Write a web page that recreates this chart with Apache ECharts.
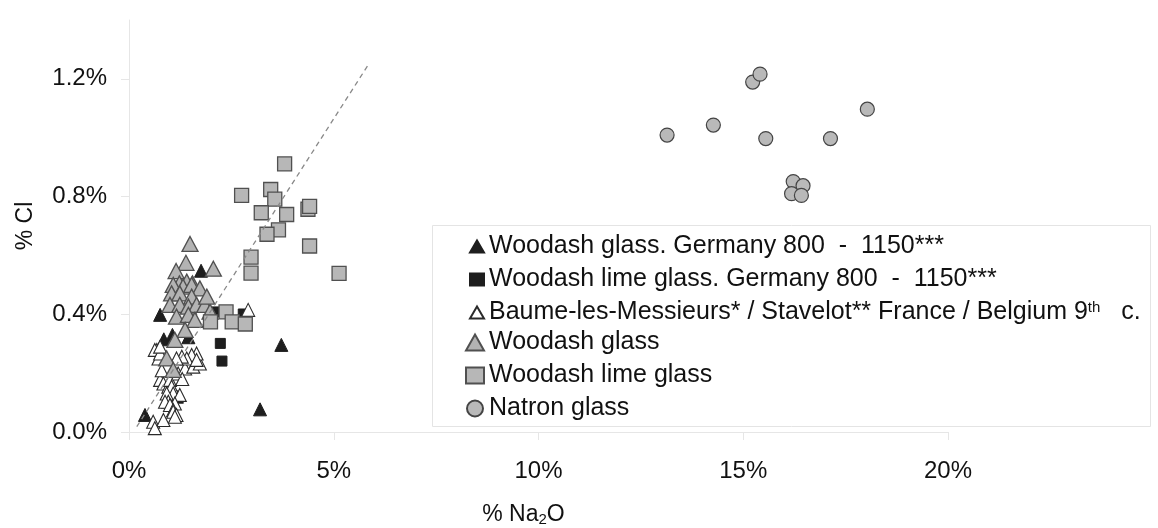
<!DOCTYPE html>
<html>
<head>
<meta charset="utf-8">
<script src="https://cdn.jsdelivr.net/npm/echarts@6/dist/echarts.min.js"></script>
<style>
html,body{margin:0;padding:0;background:#fff;}
#chart{width:1158px;height:528px;}
</style>
</head>
<body>
<div id="chart"></div>
<script>
// ---- Data (x = % Na2O, y = % Cl) ----
const seriesNames = [
  'Woodash glass. Germany 800  -  1150***',
  'Woodash lime glass. Germany 800  -  1150***',
  'Baume-les-Messieurs* / Stavelot** France / Belgium 9th c.',
  'Woodash glass',
  'Woodash lime glass',
  'Natron glass'
];
const woodashGermany = [
  [0.39,0.058],[0.76,0.398],[0.85,0.315],[1.06,0.330],[1.45,0.322],[1.76,0.548],
  [3.72,0.296],[3.20,0.077],[1.00,0.150],[1.17,0.120]
];
const woodashLimeGermany = [
  [2.11,0.408],[2.79,0.401],[2.23,0.301],[2.27,0.241]
];
const baume = [
  [0.68,0.279],[0.63,0.279],[0.72,0.250],[0.76,0.267],[0.76,0.177],[0.84,0.165],
  [0.96,0.154],[1.00,0.177],[1.04,0.154],[1.08,0.131],[0.92,0.131],[1.24,0.126],
  [1.20,0.199],[1.37,0.216],[1.57,0.222],[1.73,0.233],[1.65,0.267],[1.53,0.262],
  [1.41,0.250],[1.29,0.256],[1.16,0.250],[1.65,0.245],[0.96,0.103],[0.88,0.103],
  [1.12,0.097],[1.00,0.092],[1.08,0.075],[1.08,0.069],[1.16,0.058],[1.12,0.052],
  [0.59,0.035],[0.84,0.041],[0.63,0.013],[2.91,0.415],[0.76,0.290],[0.80,0.210],
  [1.30,0.180]
];
const woodash = [
  [1.49,0.639],[1.39,0.575],[1.15,0.547],[2.06,0.555],[1.55,0.505],[1.23,0.505],
  [1.41,0.511],[1.08,0.500],[1.32,0.494],[1.53,0.500],[1.73,0.488],[1.04,0.471],
  [1.24,0.471],[1.53,0.460],[1.00,0.432],[1.24,0.432],[1.45,0.426],[1.65,0.432],
  [1.85,0.432],[1.98,0.409],[1.16,0.392],[1.45,0.398],[1.61,0.381],[1.37,0.347],
  [1.12,0.313],[0.92,0.250],[1.08,0.211],[1.90,0.460]
];
const woodashLime = [
  [3.80,0.911],[2.75,0.804],[3.46,0.824],[3.56,0.791],[3.23,0.745],[3.85,0.739],
  [4.37,0.757],[4.41,0.767],[3.65,0.687],[3.37,0.672],[4.41,0.632],[2.98,0.594],
  [2.98,0.540],[5.13,0.539],[1.99,0.374],[2.37,0.408],[2.52,0.374],[2.84,0.367]
];
const natron = [
  [13.14,1.009],[14.27,1.043],[15.23,1.189],[15.41,1.216],[15.55,0.997],[17.13,0.997],
  [18.03,1.097],[16.22,0.851],[16.46,0.837],[16.18,0.810],[16.42,0.804]
];
const trendArrow = [[0.19,0.018],[5.83,1.245]];
const xTicks = [0,5,10,15,20];
const yTicks = [0,0.4,0.8,1.2];

const FONT = '"Liberation Sans", Arial, sans-serif';
const chart = echarts.init(document.getElementById('chart'), null, {renderer:'canvas'});

function legendFmt(name){
  if (name === seriesNames[2]) return 'Baume-les-Messieurs* / Stavelot** France / Belgium 9{s|th}   c.';
  return name;
}
const legendText = {
  fontFamily: FONT, fontSize: 25, color: '#111', lineHeight: 24,
  rich: { s: { fontFamily: FONT, fontSize: 15, verticalAlign: 'top', lineHeight: 15, color:'#111' } }
};

const option = {
  backgroundColor: '#fff',
  animation: false,
  grid: { left: 129, right: 210, top: 20, bottom: 96, containLabel: false, outerBoundsMode: 'none' },
  xAxis: {
    type: 'value', min: 0, max: 20, interval: 5,
    name: '% Na{sub|2}O', nameLocation: 'middle', nameGap: 70,
    nameTextStyle: { fontFamily: FONT, fontSize: 23, color: '#111', padding: [0, 30, 0, 0],
      rich: { sub: { fontFamily: FONT, fontSize: 15, verticalAlign: 'bottom', padding: [10,0,0,0], color:'#111' } } },
    axisLine: { show: true, lineStyle: { color: '#e6e6e6', width: 1 } },
    axisTick: { show: true, length: 8, lineStyle: { color: '#e6e6e6' } },
    axisLabel: { fontFamily: FONT, fontSize: 24, color: '#111', margin: 27, formatter: v => v + '%' },
    splitLine: { show: false }
  },
  yAxis: {
    type: 'value', min: 0, max: 1.4, interval: 0.4,
    name: '% Cl', nameLocation: 'middle', nameGap: 92,
    nameTextStyle: { fontFamily: FONT, fontSize: 23, color: '#111' },
    axisLine: { show: true, lineStyle: { color: '#e6e6e6', width: 1 } },
    axisTick: { show: true, length: 8, lineStyle: { color: '#e6e6e6' }, customValues: yTicks },
    axisLabel: { fontFamily: FONT, fontSize: 24, color: '#111', margin: 22, customValues: yTicks,
      formatter: v => v.toFixed(1) + '%' },
    splitLine: { show: false }
  },
  legend: [
    { data: seriesNames.slice(0,3), orient: 'vertical', left: 469, top: 234, padding: 0,
      itemWidth: 14, itemHeight: 12, itemGap: 8, selectedMode: false,
      formatter: legendFmt, textStyle: legendText },
    { data: seriesNames.slice(3), orient: 'vertical', left: 465, top: 330, padding: 0,
      itemWidth: 18, itemHeight: 16, itemGap: 8, selectedMode: false,
      formatter: legendFmt, textStyle: legendText }
  ],
  graphic: [
    { type: 'rect', left: 432, top: 225, z: 0, silent: true,
      shape: { width: 718, height: 201 },
      style: { fill: 'rgba(0,0,0,0)', stroke: '#e4e4e4', lineWidth: 1 } }
  ],
  series: [
    { name: 'trend', type: 'scatter', data: [], silent: true,
      markLine: { silent: true, animation: false, symbol: ['none','arrow'], symbolSize: [0, 9],
        label: { show: false },
        lineStyle: { type: [5,4], color: '#888', width: 1.3 },
        data: [[{ coord: trendArrow[0] }, { coord: trendArrow[1] }]] } },
    { name: seriesNames[0], type: 'scatter', data: woodashGermany, symbol: 'triangle', symbolSize: [13,13],
      itemStyle: { color: '#1e1e1e', borderColor: '#1e1e1e', borderWidth: 1, opacity: 1 } },
    { name: seriesNames[1], type: 'scatter', data: woodashLimeGermany, symbol: 'rect', symbolSize: 10,
      itemStyle: { color: '#1e1e1e', borderColor: '#1e1e1e', borderWidth: 1, opacity: 1 } },
    { name: seriesNames[2], type: 'scatter', data: baume, symbol: 'triangle', symbolSize: [13,13],
      itemStyle: { color: '#ffffff', borderColor: '#2a2a2a', borderWidth: 1.1, opacity: 1 } },
    { name: seriesNames[3], type: 'scatter', data: woodash, symbol: 'triangle', symbolSize: [16,15],
      itemStyle: { color: '#b3b3b3', borderColor: '#505050', borderWidth: 1.3, opacity: 1 } },
    { name: seriesNames[4], type: 'scatter', data: woodashLime, symbol: 'rect', symbolSize: 14,
      itemStyle: { color: '#b7b7b7', borderColor: '#505050', borderWidth: 1.3, opacity: 1 } },
    { name: seriesNames[5], type: 'scatter', data: natron, symbol: 'circle', symbolSize: 14,
      itemStyle: { color: '#b9b9b9', borderColor: '#444', borderWidth: 1.2, opacity: 1 } }
  ]
};
chart.setOption(option);
</script>
</body>
</html>
